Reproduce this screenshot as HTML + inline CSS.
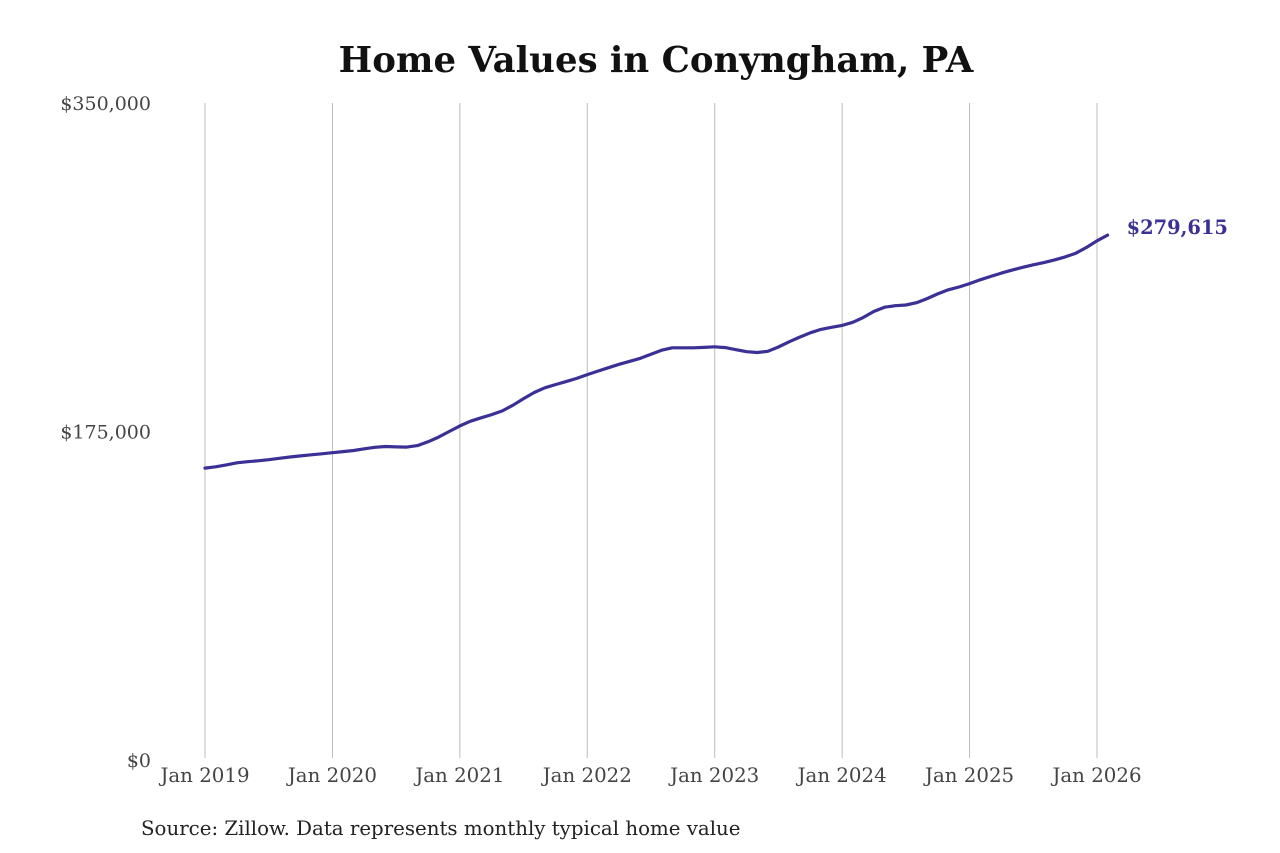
<!DOCTYPE html>
<html><head><meta charset="utf-8"><style>
html,body{margin:0;padding:0;background:#fff;}
svg{display:block;font-family:"DejaVu Serif","Liberation Serif",serif;}
</style></head><body>
<svg id="chart" width="1280" height="853" viewBox="0 0 1280 853">
<text x="656" y="72" text-anchor="middle" font-size="35.5" font-weight="bold" fill="#111">Home Values in Conyngham, PA</text>
<g id="grid"></g>
<g id="yticks"></g>
<g id="xticks"></g>
<path id="line" fill="none" stroke="#3a3096" stroke-width="3.2" stroke-linejoin="round" stroke-linecap="round"/>
<text id="endlabel" font-size="19.4" font-weight="bold" fill="#3a3096"></text>
<text x="141" y="835" font-size="19.8" fill="#222">Source: Zillow. Data represents monthly typical home value</text>
</svg>
<script>
const xTickLabels = ["Jan 2019","Jan 2020","Jan 2021","Jan 2022","Jan 2023","Jan 2024","Jan 2025","Jan 2026"];
const yTickValues = [0,175000,350000];
const yTickLabels = ["$0","$175,000","$350,000"];
const startYear = 2019;
const values = [
155.5,156.2,157.2,158.3,158.9,159.4,160.0,160.7,161.4,162.0,162.6,163.1,
163.7,164.3,164.9,165.8,166.6,167.0,166.8,166.7,167.5,169.5,172.0,175.0,
178.0,180.5,182.3,184.0,186.0,189.0,192.5,195.8,198.3,200.0,201.6,203.3,
205.3,207.2,209.0,210.8,212.4,214.0,216.2,218.3,219.6,219.6,219.6,219.8,
220.1,219.7,218.6,217.5,217.1,217.7,220.0,222.8,225.3,227.6,229.4,230.5,
231.5,233.2,235.8,239.0,241.2,242.0,242.4,243.6,245.8,248.3,250.5,252.0,
253.8,255.8,257.6,259.4,261.0,262.5,263.8,265.0,266.4,268.0,270.0,273.0,
276.6,279.615].map(v=>v*1000);
const NS="http://www.w3.org/2000/svg";
const x = m => 205 + (m/12)*127.43;
const y = v => 760 - v/350000*657;
const grid=document.getElementById('grid'), xt=document.getElementById('xticks'), yt=document.getElementById('yticks');
xTickLabels.forEach((l,i)=>{
  const ln=document.createElementNS(NS,'line');
  
  
  ln.setAttribute('x1',x(i*12));ln.setAttribute('x2',x(i*12));ln.setAttribute('y1',103);ln.setAttribute('y2',758);
  ln.setAttribute('stroke','#bbb');ln.setAttribute('stroke-width','1');
  grid.appendChild(ln);
  const t=document.createElementNS(NS,'text');
  
  
  t.setAttribute('x',x(i*12));t.setAttribute('y',782);t.setAttribute('text-anchor','middle');
  t.setAttribute('font-size','19.8');t.setAttribute('fill','#444');t.textContent=l;
  xt.appendChild(t);
});
yTickValues.forEach((v,i)=>{
  const t=document.createElementNS(NS,'text');
  
  
  t.setAttribute('x',151);t.setAttribute('y',y(v)+7);t.setAttribute('text-anchor','end');
  t.setAttribute('font-size','19');t.setAttribute('fill','#444');t.textContent=yTickLabels[i];
  yt.appendChild(t);
});
let d='';
values.forEach((v,i)=>{d+=(i?'L':'M')+x(i).toFixed(1)+','+y(v).toFixed(1);});
document.getElementById('line').setAttribute('d',d);
const last=values.length-1, el=document.getElementById('endlabel');
el.setAttribute('x',x(last)+19);el.setAttribute('y',y(values[last])-1);
el.textContent='$'+Math.round(values[last]).toLocaleString('en-US');
</script>
</body></html>
